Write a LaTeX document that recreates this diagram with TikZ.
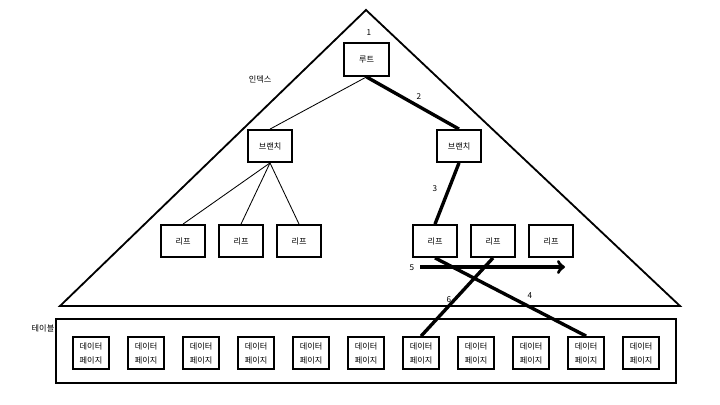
\documentclass[tikz,border=0pt]{standalone}
\usepackage{fontspec}
\setmainfont{Noto Sans CJK KR}
\usetikzlibrary{arrows, positioning}

\begin{document}
\begin{tikzpicture}[x=0.025cm, y=-0.025cm,
  box/.style={rectangle, minimum width=1.1cm, minimum height=0.8cm, inner sep=0pt, text centered, align=center, draw=black, line width=1.3pt, font=\fontsize{5.8}{10}\selectfont},
  page/.style={box, minimum width=0.9cm},
  num/.style={inner sep=0pt, font=\fontsize{5.8}{7}\selectfont},
  link/.style={line width=0.6pt},
  heavy/.style={line width=2.4pt},
  arrow/.style={heavy,->,>=to},
  node distance=1.45cm]

  \useasboundingbox (0,0) rectangle (720,404);

  % Index triangle and table
  \draw [line width=1.3pt] (366,10) -- (60,306) -- (680,306) -- cycle;
  \node (table) [draw=black, line width=1.3pt, minimum width=15.5cm, minimum height=1.6cm] at (366,351) {};

  % Nodes
  \node (root) [box, minimum width=1.125cm, minimum height=0.825cm] at (366.5,59.5) {루트};
  \node (lbranch) [box] at (270,146) {브랜치};
  \node (rbranch) [box] at (459,146) {브랜치};

  \node (leafa) [box] at (183,241) {리프};
  \node (leafb) [box, right of=leafa] {리프};
  \node (leafc) [box, right of=leafb] {리프};
  \node (leafd) [box] at (435,241) {리프};
  \node (leafe) [box, right of=leafd] {리프};
  \node (leaff) [box, right of=leafe] {리프};

  \begin{scope}[node distance=1.375cm]
  \node (page1) [page] at (91,353) {데이터\\페이지};
  \node (page2) [page, right of=page1] {데이터\\페이지};
  \node (page3) [page, right of=page2] {데이터\\페이지};
  \node (page4) [page, right of=page3] {데이터\\페이지};
  \node (page5) [page, right of=page4] {데이터\\페이지};
  \node (page6) [page, right of=page5] {데이터\\페이지};
  \node (page7) [page, right of=page6] {데이터\\페이지};
  \node (page8) [page, right of=page7] {데이터\\페이지};
  \node (page9) [page, right of=page8] {데이터\\페이지};
  \node (page10) [page, right of=page9] {데이터\\페이지};
  \node (page11) [page, right of=page10] {데이터\\페이지};
  \end{scope}

  % Labels
  \node (indexname) [num] at (260,79) {인덱스};
  \node (tablename) [num] at (43,328) {테이블};
  \node (step1) [num] at (369,33) {1};
  \node (step2) [num] at (419,97) {2};
  \node (step3) [num] at (435,189) {3};
  \node (step4) [num] at (530,296) {4};
  \node (step5) [num] at (412,268) {5};
  \node (step6) [num] at (449,300) {6};

  \coordinate (scanstart) at (420,267);
  \coordinate (scanend) at (565,267);

  % Arrows
  \draw [link] (root.south) -- (lbranch.north);
  \draw [heavy] (root.south) -- (rbranch.north);
  \draw [link] (lbranch.south) -- (leafa.north);
  \draw [link] (lbranch.south) -- (leafb.north);
  \draw [link] (lbranch.south) -- (leafc.north);
  \draw [heavy] (rbranch.south) -- (leafd.north);
  \draw [arrow] (scanstart) -- (scanend);
  \draw [heavy] (leafd.south) -- (page10.north);
  \draw [heavy] (leafe.south) -- (page7.north);

\end{tikzpicture}
\end{document}
